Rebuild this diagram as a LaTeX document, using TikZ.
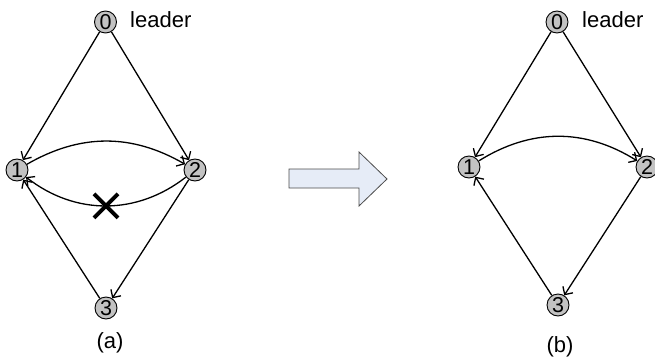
\documentclass[tikz,border=0pt]{standalone}
\usepackage{fontspec}
\setmainfont{Liberation Sans}
\usetikzlibrary{arrows.meta}
\begin{document}
\begin{tikzpicture}[x=1pt,y=1pt,
  peer/.style={circle, draw, line width=0.9pt, fill=gray!48, minimum size=22pt,
    inner sep=0pt, font=\fontsize{21.5}{21.5}\selectfont},
  link/.style={line width=1.3pt, -{Straight Barb[length=6pt,width=12pt]}},
  lbl/.style={inner sep=0pt, font=\fontsize{22}{22}\selectfont},
  cross/.style={line width=4pt},
  bigarrow/.style={draw=gray!60!black, line width=0.8pt,
    fill={rgb,255:red,230;green,236;blue,247}}]
\useasboundingbox (0,0) rectangle (655,-361);

% ---- (a): before the link 2 -> 1 fails
\node[peer] (a0) at (105.5,-22) {0};
\node[peer] (a1) at (17,-170) {1};
\node[peer] (a2) at (195,-170) {2};
\node[peer] (a3) at (106,-308) {3};
\node[lbl, anchor=base west] (aleader) at (130,-28) {leader};
\node[lbl] (acap) at (110,-343) {(a)};

\draw[link] (a0) -- (a1);
\draw[link] (a0) -- (a2);
\draw[link] (a2) -- (a3);
\draw[link] (a3) -- (a1);
\draw[link] (a1) to[bend left=30] (a2);
\draw[link] (a2) to[bend left=38] coordinate[pos=0.5] (cut) (a1);
\draw[cross] ([shift={(-12,12)}]cut) -- ([shift={(12,-12)}]cut);
\draw[cross] ([shift={(-12,-12)}]cut) -- ([shift={(12,12)}]cut);

% ---- block arrow between the two states
\draw[bigarrow] (289,-169) -- (359,-169) -- (359,-152) -- (387,-179)
  -- (359,-206) -- (359,-188) -- (289,-188) -- cycle;

% ---- (b): after the failure
\node[peer] (b0) at (557,-22) {0};
\node[peer] (b1) at (469,-167) {1};
\node[peer] (b2) at (647,-167) {2};
\node[peer] (b3) at (558,-305) {3};
\node[lbl, anchor=base west] (bleader) at (582,-28) {leader};
\node[lbl] (bcap) at (560,-347) {(b)};

\draw[link] (b0) -- (b1);
\draw[link] (b0) -- (b2);
\draw[link] (b2) -- (b3);
\draw[link] (b3) -- (b1);
\draw[link] (b1) to[bend left=32] (b2);
\end{tikzpicture}
\end{document}
